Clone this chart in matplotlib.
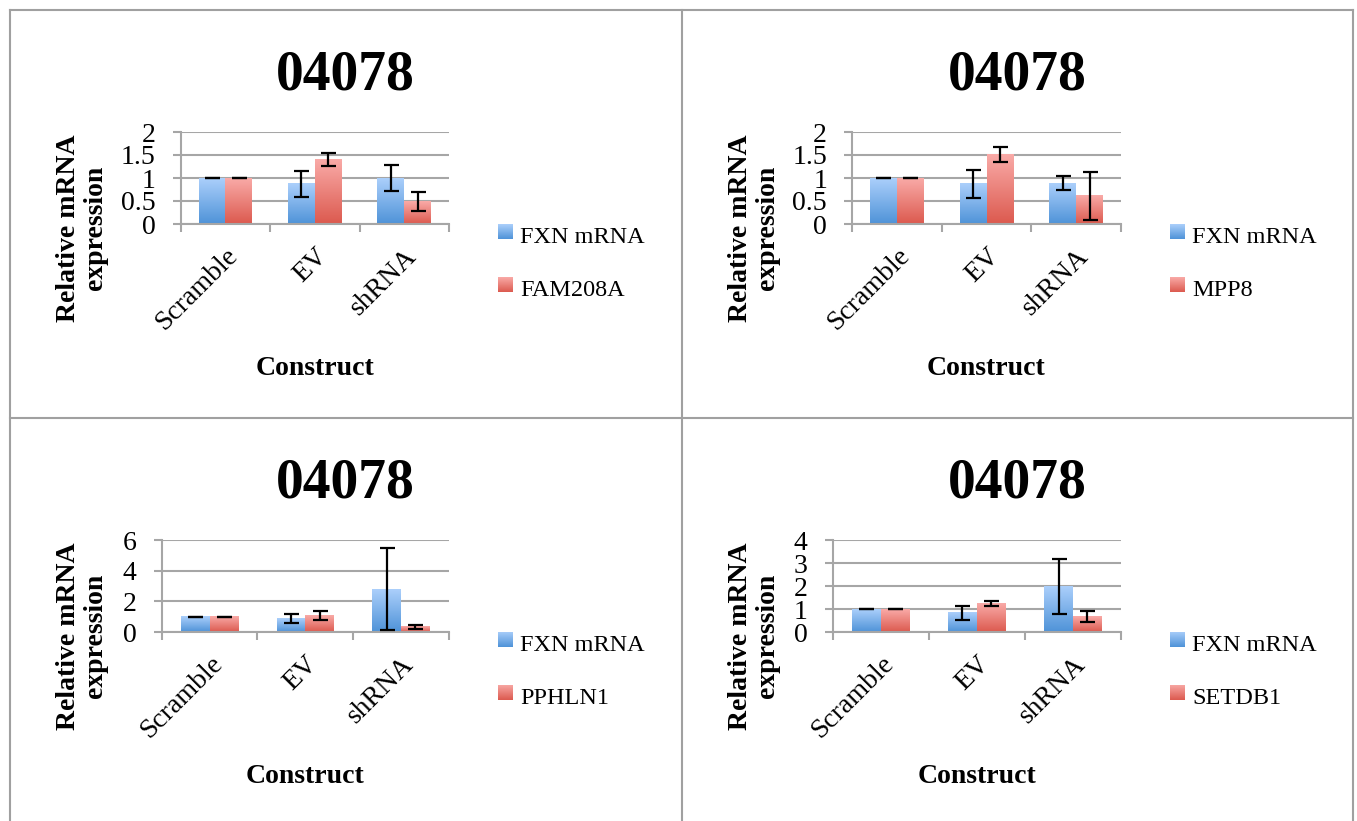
import numpy as np
import matplotlib
matplotlib.use('Agg')
import matplotlib.pyplot as plt
from matplotlib.colors import LinearSegmentedColormap
from matplotlib.lines import Line2D
from matplotlib.ticker import FuncFormatter, MultipleLocator, FixedLocator

plt.rcParams['font.family'] = ['Liberation Serif', 'DejaVu Serif']

# ── data ──
categories = ['Scramble', 'EV', 'shRNA']
panel_title = '04078'

fxn_a = [1.0, 0.87, 1.00]
fxn_a_err = [0.0, 0.29, 0.29]
fam208a = [1.0, 1.40, 0.49]
fam208a_err = [0.0, 0.15, 0.20]

fxn_b = [1.0, 0.87, 0.89]
fxn_b_err = [0.0, 0.30, 0.16]
mpp8 = [1.0, 1.51, 0.61]
mpp8_err = [0.0, 0.17, 0.52]

fxn_c = [1.0, 0.88, 2.80]
fxn_c_err = [0.0, 0.30, 2.68]
pphln1 = [1.0, 1.08, 0.35]
pphln1_err = [0.0, 0.27, 0.13]

fxn_d = [1.0, 0.83, 1.98]
fxn_d_err = [0.0, 0.30, 1.18]
setdb1 = [1.0, 1.24, 0.67]
setdb1_err = [0.0, 0.10, 0.23]

# ── styling ──
W, H = 1357, 821
GRID = '#a6a6a6'
blue_cmap = LinearSegmentedColormap.from_list('b', ['#4f93d8', '#abcffb'])
red_cmap = LinearSegmentedColormap.from_list('r', ['#dc5a4f', '#f9aaa7'])
grad = np.linspace(0, 1, 64).reshape(-1, 1)

fig = plt.figure(figsize=(W / 100, H / 100), dpi=100)


def px_axes(x0, y0, x1, y1):
    """axes from pixel box (top-left origin)"""
    return fig.add_axes([x0 / W, 1 - y1 / H, (x1 - x0) / W, (y1 - y0) / H])


def grad_bar(ax, x, h, width, cmap):
    ax.imshow(grad, extent=[x - width / 2, x + width / 2, 0, h], origin='lower',
              aspect='auto', cmap=cmap, zorder=2, interpolation='bilinear')


def draw_panel(ox, oy, left, ymax, ystep, s1, e1, s2, e2, name2):
    ax = px_axes(ox + left, oy + 122, ox + 439, oy + 214)
    x = np.arange(len(categories))
    bw = 0.3
    for xi, v, e in zip(x, s1, e1):
        grad_bar(ax, xi - bw / 2, v, bw, blue_cmap)
    for xi, v, e in zip(x, s2, e2):
        grad_bar(ax, xi + bw / 2, v, bw, red_cmap)
    ax.errorbar(x - bw / 2, s1, yerr=e1, fmt='none', ecolor='black',
                elinewidth=1.6, capsize=5.4, capthick=1.6, zorder=4)
    ax.errorbar(x + bw / 2, s2, yerr=e2, fmt='none', ecolor='black',
                elinewidth=1.6, capsize=5.4, capthick=1.6, zorder=4)

    ax.set_xlim(-0.5, 2.5)
    ax.set_ylim(0, ymax)
    ax.yaxis.set_major_locator(MultipleLocator(ystep))
    ax.yaxis.set_major_formatter(FuncFormatter(lambda v, p: f'{v:g}'))
    ax.grid(axis='y', color=GRID, lw=1.5, zorder=0)
    ax.set_axisbelow(True)
    for s in ['top', 'right']:
        ax.spines[s].set_visible(False)
    for s in ['left', 'bottom']:
        ax.spines[s].set_color(GRID)
        ax.spines[s].set_linewidth(1.5)

    ax.set_xticks(x)
    ax.set_xticklabels(categories, rotation=45, ha='right', va='top',
                       rotation_mode='anchor', fontsize=20)
    ax.xaxis.set_minor_locator(FixedLocator([-0.5, 0.5, 1.5, 2.5]))
    ax.tick_params(axis='x', which='major', length=0, pad=14)
    ax.tick_params(axis='x', which='minor', length=6, width=1.5, color=GRID)
    ax.tick_params(axis='y', length=6, width=1.5, color=GRID, labelsize=20, pad=12)

    # titles & labels
    fig.text((ox + 335) / W, 1 - (oy + 79) / H, panel_title, ha='center',
             va='baseline', fontsize=40, fontweight='bold')
    fig.text((ox + 72) / W, 1 - (oy + 218) / H, 'Relative mRNA\nexpression',
             rotation=90, ha='center', va='center', multialignment='center',
             fontsize=20, fontweight='bold', linespacing=1.1)
    fig.text((ox + (left + 439) / 2) / W, 1 - (oy + 365) / H, 'Construct',
             ha='center', va='baseline', fontsize=20, fontweight='bold')

    # legend
    for i, (lab, cmap) in enumerate([('FXN mRNA', blue_cmap), (name2, red_cmap)]):
        sy = oy + 214 + i * 53
        lax = px_axes(ox + 488, sy, ox + 503, sy + 15)
        lax.imshow(grad, origin='lower', aspect='auto', cmap=cmap, interpolation='bilinear')
        lax.axis('off')
        fig.text((ox + 510) / W, 1 - (sy + 19) / H, lab, ha='left', va='baseline',
                 fontsize=17.5)


draw_panel(10, 10, 170.7, 2, 0.5, fxn_a, fxn_a_err, fam208a, fam208a_err, 'FAM208A')
draw_panel(682, 10, 170, 2, 0.5, fxn_b, fxn_b_err, mpp8, mpp8_err, 'MPP8')
draw_panel(10, 418, 151.7, 6, 2, fxn_c, fxn_c_err, pphln1, pphln1_err, 'PPHLN1')
draw_panel(682, 418, 150.7, 4, 1, fxn_d, fxn_d_err, setdb1, setdb1_err, 'SETDB1')

# ── panel frame lines ──
def frame_line(x0, y0, x1, y1):
    fig.add_artist(Line2D([x0 / W, x1 / W], [1 - y0 / H, 1 - y1 / H],
                          transform=fig.transFigure, color='#a0a0a0', lw=1.5))

frame_line(10, 10, 1353, 10)
frame_line(10, 10, 10, H)
frame_line(1353, 10, 1353, H)
frame_line(682, 10, 682, H)
frame_line(10, 418, 1353, 418)

plt.savefig('out.png', dpi=100)
